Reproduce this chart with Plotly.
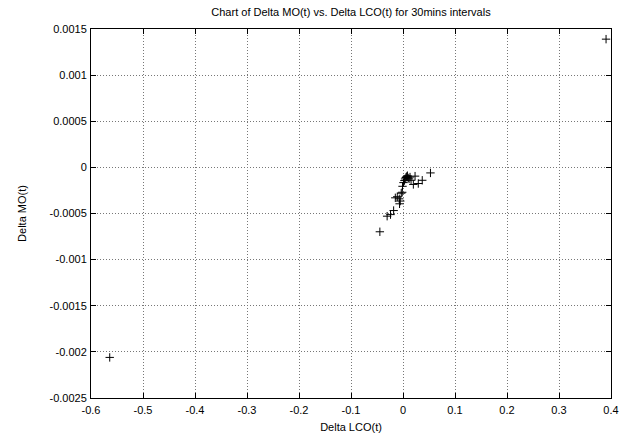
import plotly.graph_objects as go

# Delta LCO(t) vs. Delta MO(t), 30-minute intervals
delta_lco = [
    -0.564, 0.3905,
    -0.0445, -0.0305, -0.0240, -0.0180,
    -0.0148, -0.0110, -0.0072, -0.0053, -0.0066, -0.0034,
    -0.0015, -0.0009, 0.0010, 0.0028, 0.0040, 0.0055, 0.0070,
    0.0085, 0.0100, 0.0117, 0.0135, 0.0155, 0.0199, 0.0232,
    0.0294, 0.0370, 0.0528,
]
delta_mo = [
    -0.00206, 0.00139,
    -0.000698, -0.000529, -0.000512, -0.000468,
    -0.000330, -0.000318, -0.000341, -0.000365, -0.000395, -0.000280,
    -0.000270, -0.000205, -0.000165, -0.000143, -0.000125, -0.000110, -0.000100,
    -0.000090, -0.000115, -0.000125, -0.000105, -0.000140, -0.000185, -0.000095,
    -0.000175, -0.000140, -0.000060,
]

x_ticks = [-0.6, -0.5, -0.4, -0.3, -0.2, -0.1, 0, 0.1, 0.2, 0.3, 0.4]
x_tick_text = ["-0.6", "-0.5", "-0.4", "-0.3", "-0.2", "-0.1", "0", "0.1", "0.2", "0.3", "0.4"]
y_ticks = [0.0015, 0.001, 0.0005, 0, -0.0005, -0.001, -0.0015, -0.002, -0.0025]
y_tick_text = ["0.0015", "0.001", "0.0005", "0", "-0.0005", "-0.001", "-0.0015", "-0.002", "-0.0025"]

font = "Liberation Sans, Arial, sans-serif"

fig = go.Figure(
    go.Scatter(
        x=delta_lco,
        y=delta_mo,
        mode="markers",
        marker=dict(symbol="cross-thin", size=6, line=dict(color="black", width=1)),
        showlegend=False,
    )
)

axis_common = dict(
    showline=True,
    linecolor="black",
    linewidth=1,
    mirror="allticks",
    ticks="inside",
    ticklen=5,
    tickcolor="black",
    showgrid=True,
    gridcolor="#777777",
    griddash="1px,2px",
    gridwidth=1,
    zeroline=False,
    tickfont=dict(family=font, size=11, color="black"),
)

fig.update_layout(
    width=629,
    height=442,
    margin=dict(l=91, r=10, t=29, b=43),
    paper_bgcolor="white",
    plot_bgcolor="white",
    title=dict(
        text="Chart of Delta MO(t) vs. Delta LCO(t) for 30mins intervals",
        font=dict(family=font, size=11, color="black"),
        x=0.5, xref="paper", xanchor="center",
        y=0.972, yanchor="middle",
    ),
    xaxis=dict(
        range=[-0.6, 0.4],
        tickvals=x_ticks,
        ticktext=x_tick_text,
        ticklabelstandoff=2,
        title=dict(text="Delta LCO(t)", font=dict(family=font, size=11, color="black"), standoff=8),
        **axis_common,
    ),
    yaxis=dict(
        range=[-0.0025, 0.0015],
        tickvals=y_ticks,
        ticktext=y_tick_text,
        ticklabelstandoff=1,
        title=dict(text="Delta MO(t)", font=dict(family=font, size=11, color="black"), standoff=20),
        **axis_common,
    ),
)

fig.write_html("out.html")
